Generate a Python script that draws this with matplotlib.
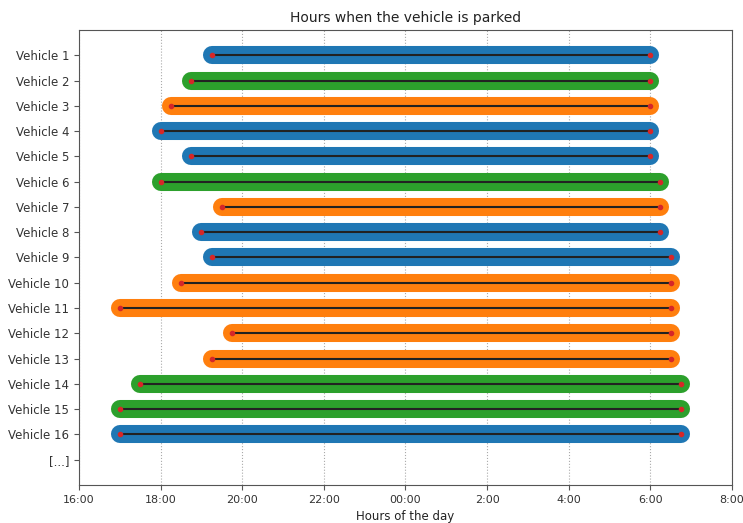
import matplotlib
matplotlib.use("Agg")
import matplotlib.pyplot as plt

vehicles = [f"Vehicle {i}" for i in range(1, 17)]
start_times = ["19:15", "18:45", "18:15", "18:00", "18:45", "18:00", "19:30", "19:00",
               "19:15", "18:30", "17:00", "19:45", "19:15", "17:30", "17:00", "17:00"]
end_times = ["6:00", "6:00", "6:00", "6:00", "6:00", "6:15", "6:15", "6:15",
             "6:30", "6:30", "6:30", "6:30", "6:30", "6:45", "6:45", "6:45"]
bar_colors = ["#1f77b4", "#2ca02c", "#ff7f0e", "#1f77b4", "#1f77b4", "#2ca02c", "#ff7f0e", "#1f77b4",
              "#1f77b4", "#ff7f0e", "#ff7f0e", "#ff7f0e", "#ff7f0e", "#2ca02c", "#2ca02c", "#1f77b4"]
ytick_labels = vehicles + ["[...]"]
xtick_values = [16, 18, 20, 22, 24, 26, 28, 30, 32]
xtick_labels = ["16:00", "18:00", "20:00", "22:00", "00:00", "2:00", "4:00", "6:00", "8:00"]


def to_hours(s, evening):
    h, m = s.split(":")
    v = int(h) + int(m) / 60
    if not evening and v < 12:
        v += 24
    return v


fig = plt.figure(figsize=(7.43, 5.23), dpi=100)
ax = fig.add_axes([0.1063, 0.0727, 0.8787, 0.8699])

for i, (s, e, c) in enumerate(zip(start_times, end_times, bar_colors)):
    x0 = to_hours(s, True)
    x1 = to_hours(e, False)
    ax.plot([x0, x1], [i, i], color=c, linewidth=13, solid_capstyle="round", zorder=2)
    ax.plot([x0, x1], [i, i], color="#222222", linewidth=1.5, zorder=3)
    ax.plot([x0, x1], [i, i], linestyle="none", marker="o", color="#d62728", markersize=3, zorder=4)

ax.set_yticks(range(len(ytick_labels)))
ax.set_yticklabels(ytick_labels, fontsize=8.5, color="#333333")
ax.set_ylim(len(ytick_labels), -1)
ax.set_xticks(xtick_values)
ax.set_xticklabels(xtick_labels, fontsize=8, color="#333333")
ax.set_xlim(16, 32)
ax.grid(axis="x", linestyle=":", color="#aaaaaa", linewidth=0.8)
ax.set_axisbelow(True)
ax.set_title("Hours when the vehicle is parked", fontsize=10, color="#222222")
ax.set_xlabel("Hours of the day", fontsize=8.5, color="#222222")
for sp in ax.spines.values():
    sp.set_color("#555555")
ax.tick_params(colors="#555555", labelcolor="#333333")

fig.savefig("out.png", dpi=100)
